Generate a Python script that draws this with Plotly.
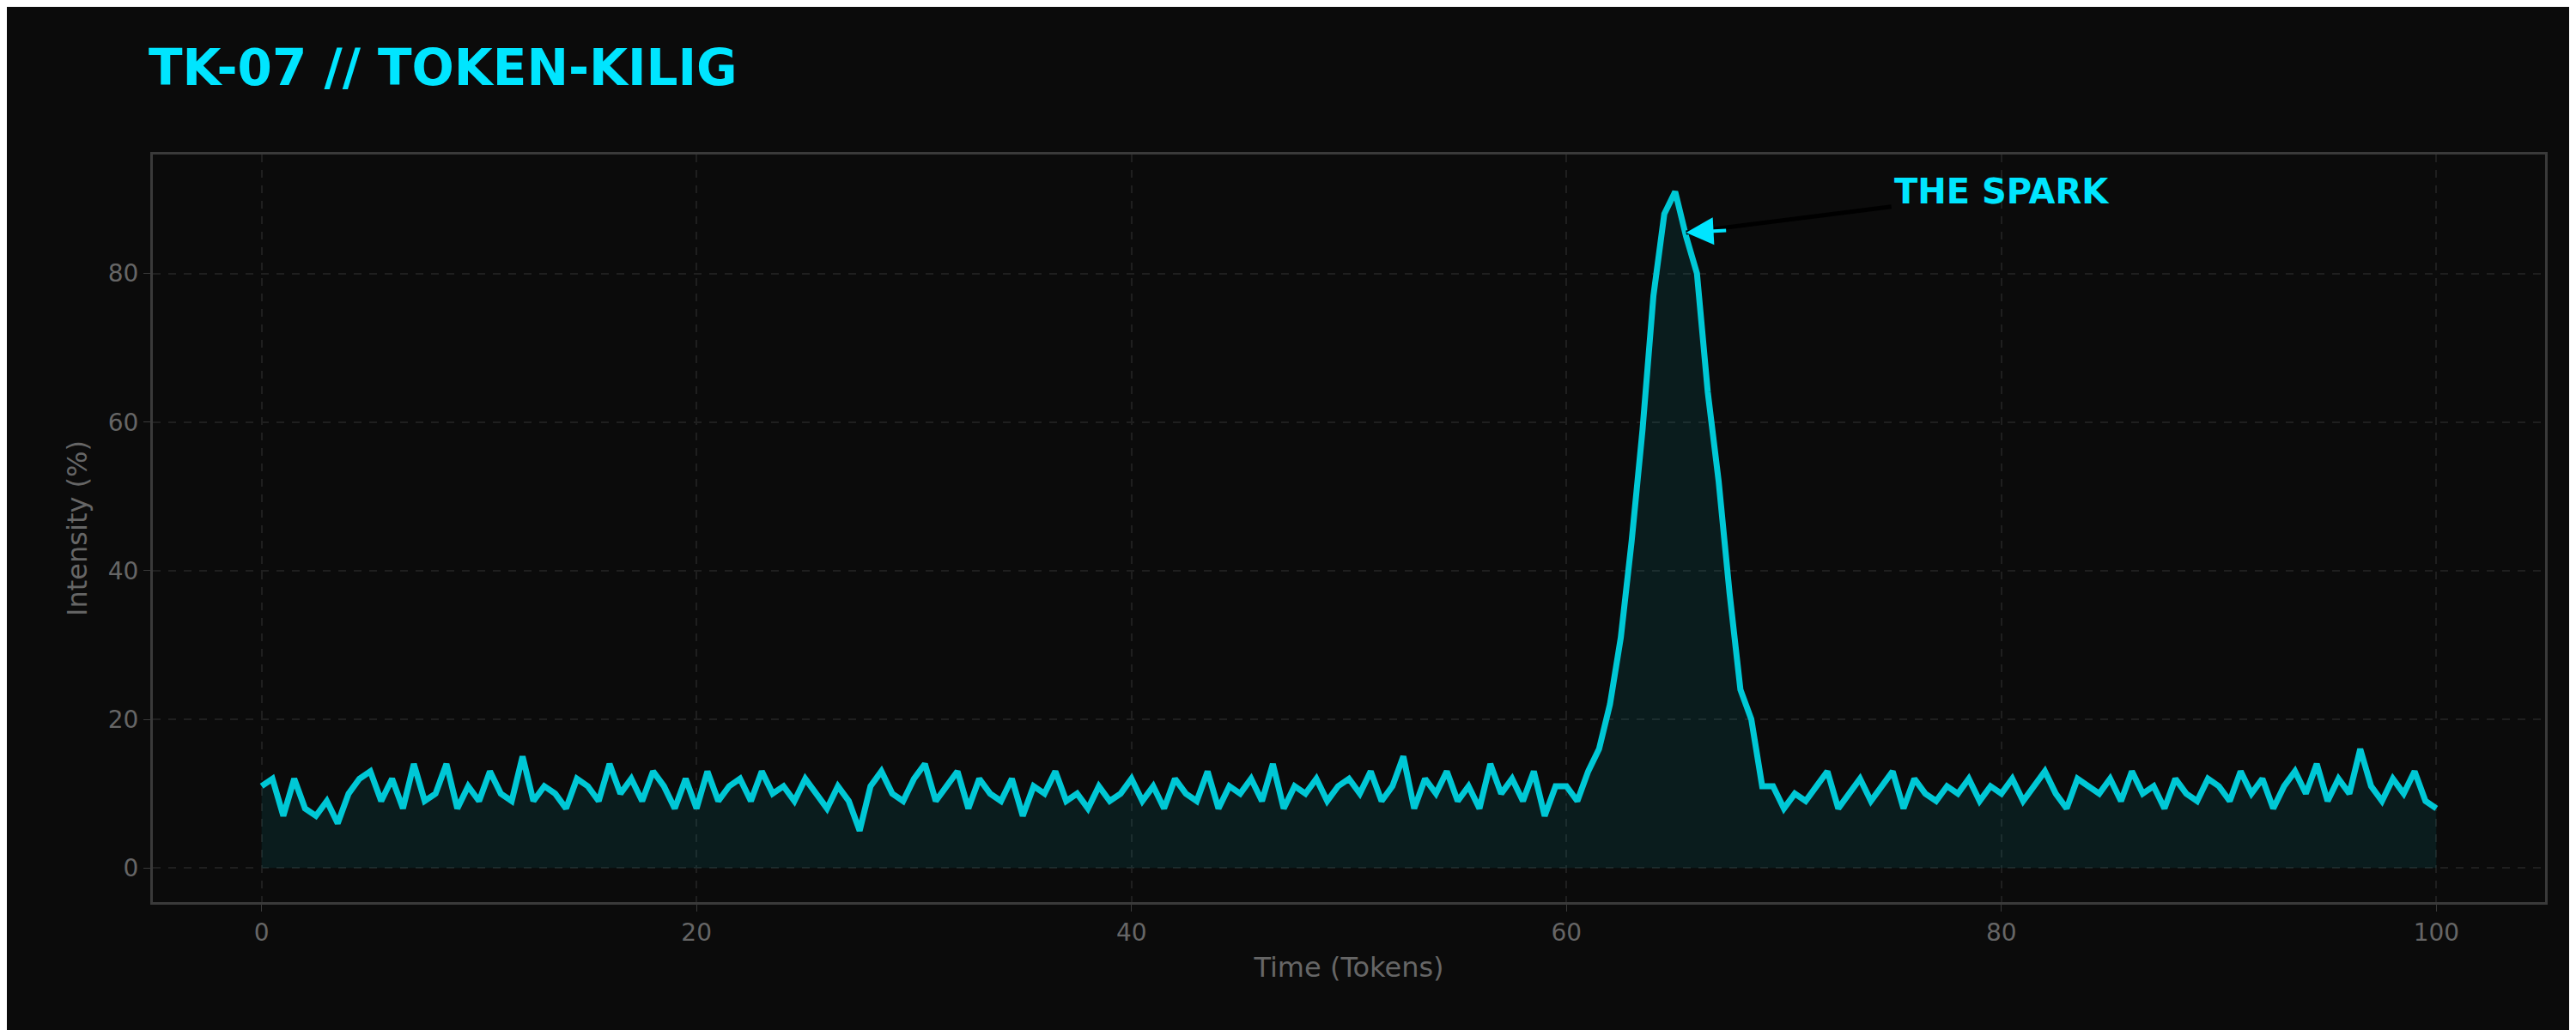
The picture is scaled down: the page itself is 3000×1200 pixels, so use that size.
import plotly.graph_objects as go
import numpy as np

# intensity, every 0.5 token from 0 to 100
intensity = [
    11, 12, 7, 12, 8, 7, 9, 6, 10, 12, 13, 9, 12, 8, 14, 9, 10, 14, 8, 11,
    9, 13, 10, 9, 15, 9, 11, 10, 8, 12, 11, 9, 14, 10, 12, 9, 13, 11, 8, 12,
    8, 13, 9, 11, 12, 9, 13, 10, 11, 9, 12, 10, 8, 11, 9, 5, 11, 13, 10, 9,
    12, 14, 9, 11, 13, 8, 12, 10, 9, 12, 7, 11, 10, 13, 9, 10, 8, 11, 9, 10,
    12, 9, 11, 8, 12, 10, 9, 13, 8, 11, 10, 12, 9, 14, 8, 11, 10, 12, 9, 11,
    12, 10, 13, 9, 11, 15, 8, 12, 10, 13, 9, 11, 8, 14, 10, 12, 9, 13, 7, 11,
    11, 9, 13, 16, 22, 31, 44, 59, 77, 88, 91, 85, 80, 64, 52, 37, 24, 20, 11, 11,
    8, 10, 9, 11, 13, 8, 10, 12, 9, 11, 13, 8, 12, 10, 9, 11, 10, 12, 9, 11,
    10, 12, 9, 11, 13, 10, 8, 12, 11, 10, 12, 9, 13, 10, 11, 8, 12, 10, 9, 12,
    11, 9, 13, 10, 12, 8, 11, 13, 10, 14, 9, 12, 10, 16, 11, 9, 12, 10, 13, 9,
    8,
]
tokens = np.linspace(0, 100, len(intensity))

title_text = "TK-07 // TOKEN-KILIG"
note_text = "THE SPARK"
note_at = (65.5, 85.5)
note_from = (75, 89)

fig = go.Figure()
fig.add_trace(go.Scatter(x=tokens, y=intensity, mode="lines",
                         line=dict(color="#00c8d6", width=7),
                         fill="tozeroy", fillcolor="rgba(0,200,214,0.09)",
                         showlegend=False))

# black arrow shaft
fig.add_annotation(x=note_at[0], y=note_at[1], ax=note_from[0], ay=note_from[1],
                   xref="x", yref="y", axref="x", ayref="y", text="",
                   showarrow=True, arrowhead=0, arrowwidth=5, arrowcolor="#000000")
# cyan arrow head
fig.add_annotation(x=note_at[0], y=note_at[1], ax=67.4, ay=85.8,
                   xref="x", yref="y", axref="x", ayref="y", text="",
                   showarrow=True, arrowhead=2, arrowsize=1.6, arrowwidth=4,
                   arrowcolor="#00e5ff")
fig.add_annotation(x=note_from[0], y=91, xref="x", yref="y", text="<b>" + note_text + "</b>",
                   showarrow=False, xanchor="left", yanchor="middle",
                   font=dict(color="#00e5ff", size=40, family="DejaVu Sans"))

axis_common = dict(showline=True, linecolor="#3a3a3a", linewidth=3, mirror=True,
                   gridcolor="#1f1f1f", griddash="dash", gridwidth=2,
                   zeroline=False, ticks="outside", tickcolor="#3a3a3a", ticklen=8,
                   tickfont=dict(color="#666666", size=28),
                   title_font=dict(color="#666666", size=32))

fig.update_layout(
    width=3000, height=1200,
    paper_bgcolor="#0b0b0b", plot_bgcolor="#0b0b0b",
    font=dict(family="DejaVu Sans"),
    margin=dict(l=170, r=44, t=172, b=157),
    title=dict(text="<b>" + title_text + "</b>", x=165 / 3000, xanchor="left",
               y=1 - 71 / 1200, yanchor="middle",
               font=dict(color="#00e5ff", size=58)),
    xaxis=dict(range=[-5, 105], tickvals=[0, 20, 40, 60, 80, 100],
               title_text="Time (Tokens)", **axis_common),
    yaxis=dict(range=[-4.6, 96], tickvals=[0, 20, 40, 60, 80],
               title_text="Intensity (%)", **axis_common),
)

fig.write_html("out.html")
